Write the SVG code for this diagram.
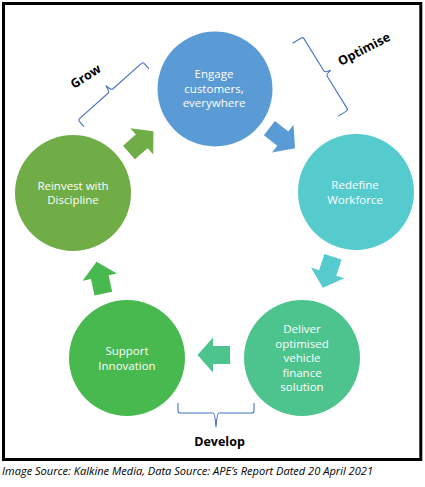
<svg xmlns="http://www.w3.org/2000/svg" width="425" height="487" viewBox="0 0 425 487">
<defs>
<style>
.lbl{font-family:"Open Sans","Noto Sans",sans-serif;font-size:11.5px;fill:#fff;text-anchor:middle}
.phase{font-family:"Open Sans","Noto Sans",sans-serif;font-size:12.5px;font-weight:bold;fill:#000;text-anchor:middle}
.brace{fill:none;stroke:#4472C4;stroke-width:1.1}
.cap{font-family:"Open Sans","Noto Sans",sans-serif;font-size:10.5px;font-style:italic;fill:#000}
</style>
<path id="arr" d="M-16,-9 L1,-9 L1,-17.5 L16.5,0 L1,17.5 L1,9 L-16,9 Z"/>
</defs>
<rect width="425" height="487" fill="#fff"/>
<rect x="3.5" y="3.5" width="417.3" height="456" fill="none" stroke="#000" stroke-width="3"/>

<g id="engage">
<circle cx="215" cy="89" r="57.5" fill="#5B9BD5"/>
<text class="lbl" x="214" y="78">Engage</text>
<text class="lbl" x="214" y="92.5">customers,</text>
<text class="lbl" x="214" y="107">everywhere</text>
</g>
<g id="redefine">
<circle cx="356" cy="192" r="58" fill="#55CBCD"/>
<text class="lbl" x="355" y="189">Redefine</text>
<text class="lbl" x="355" y="204">Workforce</text>
</g>
<g id="deliver">
<circle cx="302" cy="358" r="58" fill="#4DC48E"/>
<text class="lbl" x="302" y="333">Deliver</text>
<text class="lbl" x="302" y="347.5">optimised</text>
<text class="lbl" x="302" y="362">vehicle</text>
<text class="lbl" x="302" y="376.5">finance</text>
<text class="lbl" x="302" y="391">solution</text>
</g>
<g id="support">
<circle cx="127" cy="358" r="58" fill="#47B94F"/>
<text class="lbl" x="127" y="355">Support</text>
<text class="lbl" x="127" y="370">Innovation</text>
</g>
<g id="reinvest">
<circle cx="73" cy="193" r="58" fill="#70AD47"/>
<text class="lbl" x="73" y="189.5">Reinvest with</text>
<text class="lbl" x="73" y="204">Discipline</text>
</g>

<g id="connectors">
<use href="#arr" transform="translate(141,142) rotate(-41)" fill="#70AD47"/>
<use href="#arr" transform="translate(282,138) rotate(38)" fill="#5B9BD5"/>
<use href="#arr" transform="translate(328,272) rotate(108)" fill="#55CBCD"/>
<use href="#arr" transform="translate(214,355) rotate(180)" fill="#4DC48E"/>
<use href="#arr" transform="translate(100,278) rotate(-102)" fill="#47B94F"/>
</g>

<g id="grow">
<path class="brace" transform="translate(110.5,91) rotate(-41.7)" d="M-43.5,9 L-43.5,2 Q-43.5,0 -41.5,0 L-3,0 Q-1,0 0,-7 Q1,0 3,0 L41.5,0 Q43.5,0 43.5,2 L43.5,9"/>
<text class="phase" transform="translate(88,80) rotate(-33)">Grow</text>
</g>
<g id="optimise">
<path class="brace" transform="translate(325.5,73.5) rotate(58.3)" d="M-43,12 L-43,2 Q-43,0 -41,0 L-3,0 Q-1,0 0,-6 Q1,0 3,0 L41,0 Q43,0 43,2 L43,12"/>
<text class="phase" transform="translate(366,53) rotate(-27.5)">Optimise</text>
</g>
<g id="develop">
<path class="brace" transform="translate(216,413) rotate(180)" d="M-38,10 L-38,2 Q-38,0 -36,0 L-3,0 Q-1,0 0,-14 Q1,0 3,0 L36,0 Q38,0 38,2 L38,10"/>
<text class="phase" x="219.5" y="446">Develop</text>
</g>

<text class="cap" x="2" y="475" textLength="371" lengthAdjust="spacingAndGlyphs">Image Source: Kalkine Media, Data Source: APE’s Report Dated 20 April 2021</text>
</svg>
